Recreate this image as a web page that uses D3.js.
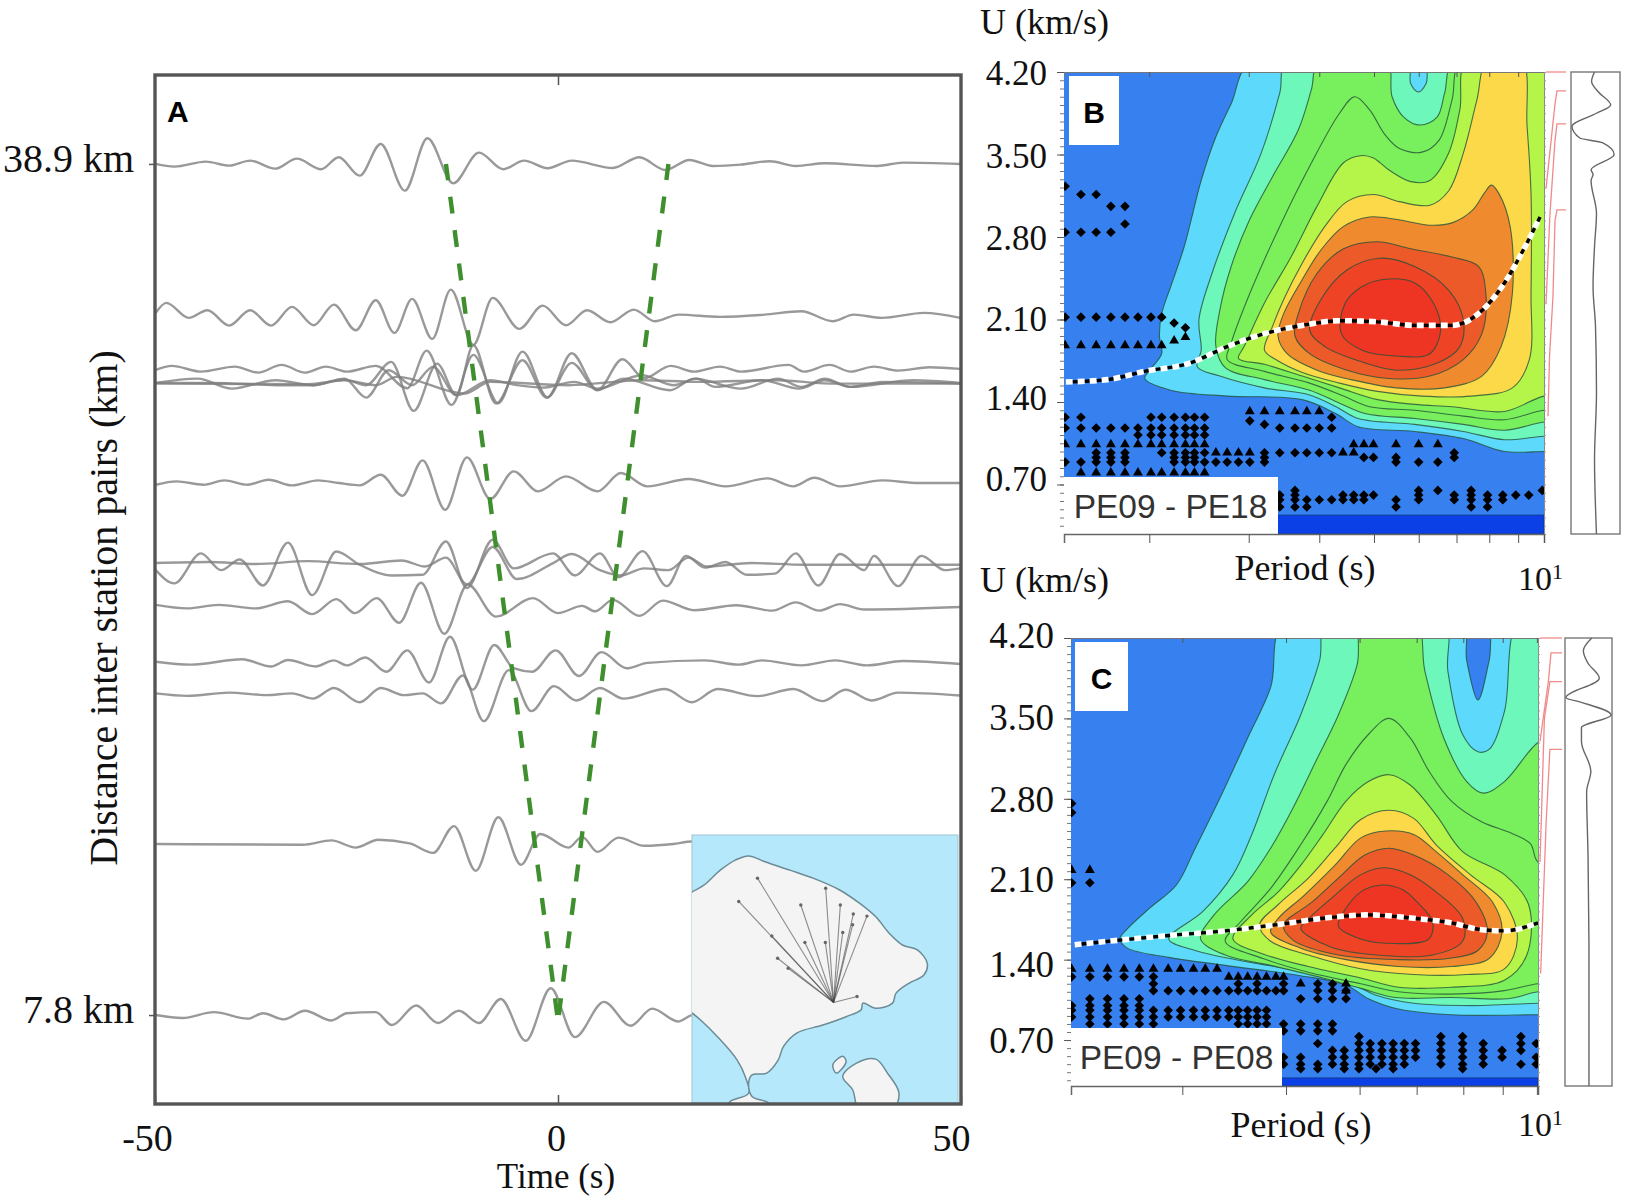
<!DOCTYPE html>
<html>
<head>
<meta charset="utf-8">
<style>
  body { margin: 0; background: #fff; }
  text { font-family: "Liberation Serif", serif; fill: #111; }
  .mark { font-family: "Liberation Sans", sans-serif; font-weight: 700; font-size: 30px; fill: #000; }
  .pair { font-family: "Liberation Sans", sans-serif; font-size: 33.5px; fill: #333; }
  .trace { fill: none; stroke: #808080; stroke-width: 2.4; opacity: .8; stroke-linejoin: round; filter: blur(.5px); }
  .move { fill: none; stroke: #3f8f2f; stroke-width: 4.4; stroke-dasharray: 17 16.68; }
  .contour { stroke: #24503a; stroke-opacity: .8; stroke-width: 1.1; }
</style>
<script src="https://cdn.jsdelivr.net/npm/d3@7"></script>
</head>
<body>
<svg id="fig" width="1628" height="1201"></svg>
<script>
// --- panel A: cross correlation traces, each one a list of [time s, amplitude] extrema
const distances = [38.9, 33.31, 31.41, 30.9, 30.9, 30.9, 27.24, 24.28, 24.28, 22.71, 20.67, 19.53, 14.05, 7.8];
const wave1 = [[-49.9,0],[-47.6,-2.7],[-43.7,2.3],[-40.8,-1.7],[-38.2,3.3],[-35.1,-4.7],[-32.4,5.3],[-29.4,-5.3],[-27.2,6.7],[-24.6,-11.7],[-22,20],[-19,-26.7],[-16.2,25.7],[-13,-19.3],[-9.8,11.3],[-6.8,-5.3],[-4.2,3.3],[-1.3,-4.3],[1.7,3.3],[6.8,-4],[10.1,6.7],[13.3,-6],[16.3,4],[19.2,-2],[22.7,-.7],[26.3,2.7],[29.5,-2],[33.1,.7],[39.6,-2],[42.8,1.3],[49.9,0]];
const wave2 = [[-49.9,4],[-48.6,14],[-45.8,-1],[-43.5,6.7],[-40.8,-8.7],[-38.2,6.7],[-35.6,-8.7],[-33,10],[-30.3,-8.3],[-27.8,12.3],[-25.1,-13.3],[-22.6,16.7],[-20.3,-16],[-18.1,18],[-15.6,-22],[-13.3,27.3],[-10.5,-28],[-8.1,19],[-4.8,-12],[-1.9,11.3],[1,-8.3],[3.6,6.7],[6.5,-5.3],[9.4,7.3],[12,-4.3],[15,2.3],[20.1,0],[25.6,2.3],[30.2,5.7],[34.1,-4.3],[36.7,2.3],[40.2,-1],[45.4,4],[49.9,-1]];
const wave3 = [[-49.9,-1],[-47.9,3],[-44.3,-2.7],[-40.1,2.3],[-37.2,-3.7],[-34.3,4],[-31.4,-3.7],[-28.8,2.3],[-26.2,-2.7],[-22.6,3],[-18.7,-19.3],[-16.3,18.3],[-13.2,-36],[-10.5,14],[-7.4,-34.3],[-4.4,17.3],[-1.3,-28.3],[1.7,15.7],[4.9,-21],[8,9.7],[10.7,-9.3],[14,3],[16.9,-2.7],[20.1,2.3],[22.7,-2.7],[28.6,4],[30.5,-2.7],[33.7,4],[36.3,-2.7],[39.2,2.3],[42.2,-1.7],[46.1,1.7],[49.9,0]];
const wave4 = [[-49.9,0],[-44.7,4.3],[-40.5,-5.7],[-35,2.7],[-30.4,-2.3],[-26.5,3.3],[-23.8,-2.3],[-20.7,21],[-17.9,-28],[-15,19.3],[-12.6,-12.3],[-10.5,37.7],[-7.7,-20.7],[-4.4,22.7],[-1.4,-15],[1.7,20],[4.9,-7.3],[8.1,4.3],[13.9,-7.3],[16.9,4.3],[22.7,-5.7],[27.3,4.3],[30.2,-4],[33.1,4.3],[36.3,-4],[44.1,2.7],[49.9,0]];
const wave5 = [[-49.9,0],[-42.7,0],[-35,-2.3],[-30.4,-2.3],[-26.5,4.3],[-23.8,-14.7],[-21,12.7],[-18.1,-2.3],[-15.5,16],[-12.6,-12.3],[-8.4,2.7],[-5.1,-2.3],[-1.9,-4.7],[2,1],[4.9,-5.7],[10.4,7.7],[14.3,-2.3],[17.2,4.3],[19.5,-4],[25.3,2.7],[29.9,-5.7],[33.1,2.7],[36.3,-4],[40.2,1],[49.9,-.7]];
const wave6 = [[-49.9,-.7],[-31,-1.3],[-26.5,2.7],[-22.6,-2.3],[-20,6],[-11.6,-10.7],[-8.4,1],[1.3,-2.3],[10.4,2.7],[17.5,1],[27.3,2.7],[33.7,-.7],[49.9,-.7]];
const wave7 = [[-49.9,-1.7],[-47.3,1.7],[-44,-1.7],[-41.4,2.7],[-38.5,-1.7],[-35.9,3.3],[-33,-2.3],[-29.8,2.7],[-27.2,0],[-24.6,-2.3],[-22,8.3],[-19.3,-12.7],[-16.8,22.7],[-14,-26.7],[-11.3,25.7],[-8.4,-16],[-5.5,11.7],[-2.5,-8.3],[1,6.7],[4.9,-8.3],[7.8,10],[11.1,-3.3],[16.2,4],[20.8,-3.3],[26,4.7],[29.2,-3.3],[31.8,5.3],[35,-3.3],[40.2,2.7],[44.8,0],[49.9,0]];
const wave8 = [[-49.9,1],[-43.4,2],[-37.5,0],[-31.1,2.9],[-24.6,0],[-19.4,3.6],[-16.5,-2.5],[-13.9,6.4],[-11.3,-20.4],[-8.1,17.1],[-5.1,-15],[-.6,1],[1.7,10],[5.2,-6.1],[7.8,-11.4],[10.7,-4.3],[13.7,-6.1],[16.2,6.4],[18.5,-2.5],[24,1],[30.5,-.7],[40.2,-.7],[49.9,-.7]];
const wave9 = [[-49.9,-6.1],[-47.6,-19.3],[-44.3,10.7],[-41.8,-6.1],[-39.5,4.6],[-36.6,-21.4],[-33.5,21.4],[-30.5,-31.1],[-27.5,12.5],[-24.6,-.7],[-20.7,-11.4],[-16.8,-10.7],[-13.9,22.5],[-11.3,-23.9],[-8.1,24.3],[-5.5,-4.3],[-.6,10.7],[2.1,-11.4],[5.2,10.7],[7.5,-13.2],[10.5,12.9],[13.5,-22.1],[15.9,8.2],[18.2,-3.6],[20.8,2.1],[23.4,-10.7],[26.9,-9.6],[29.5,10.7],[32.3,-21.4],[35,10],[38,-6.1],[39.2,8.2],[42.2,-22.1],[45.1,8.2],[48,-6.1],[49.9,-4.3]];
const wave10 = [[-49.9,2.1],[-46,-1.4],[-42.1,2.1],[-37.5,-1.4],[-33.5,5.7],[-30.5,-7.1],[-27.5,7.9],[-25.2,-6.1],[-22.5,8.9],[-19.7,-15.7],[-17,24.3],[-14.1,-26.8],[-11.2,22.5],[-7.7,-9.6],[-3.1,8.9],[0,-6.1],[3,1.1],[4.6,-4.3],[6.8,7.1],[10.1,-8.9],[13,6.4],[16.9,-3.2],[22.1,1.8],[26.6,-3.6],[29.5,4.6],[32.4,-3.6],[35,2.9],[38,-2.5],[49.9,0]];
const wave11 = [[-49.9,1.1],[-45.6,-1.8],[-39.2,3.6],[-35.6,-3.6],[-33.5,2.9],[-30.1,-3.6],[-27.8,2.5],[-26.2,-2.5],[-23.9,5.4],[-21.3,-8.9],[-18.7,12.5],[-16,-19.6],[-13.4,26.1],[-10.6,-26.8],[-7.9,17.9],[-5.5,-5.4],[-3.2,-8.9],[-.3,12.5],[2.6,-13.2],[5.4,10.7],[8.5,-5.4],[11.1,0],[18.2,2.5],[22.4,-1.8],[25.3,2.5],[30.2,-2.5],[34.4,2.5],[38.3,-2.5],[42.8,1.8],[49.9,-1.1]];
const wave12 = [[-49.9,.7],[-46,-1.8],[-40.8,1.4],[-36.2,-1.1],[-33,.7],[-30.4,-4.6],[-27.8,6.1],[-24.6,-8.2],[-22,6.1],[-19.1,-1.1],[-16.8,.7],[-14.5,-9.3],[-11.8,18.6],[-9.2,-27.1],[-6.1,23.9],[-3.3,-17.1],[-.5,7.9],[2.3,-6.4],[5.2,6.1],[8.1,-4.6],[13.3,5],[16.6,-8.2],[19.8,5],[24.7,-2.1],[29.2,5],[32.8,-7.1],[35.7,4.3],[38.9,-6.4],[42.2,1.4],[49.9,-1.4]];
const wave13 = [[-49.9,0],[-31.7,-.7],[-28.1,3.6],[-25.1,-3.6],[-22.3,4.3],[-18.4,.7],[-15.5,-8.9],[-12.9,17.9],[-10.2,-26.8],[-7.4,26.8],[-4.6,-20.7],[-2.2,10],[1.3,-3.6],[3,7.1],[4.9,-7.9],[7.5,6.4],[10.7,-1.8],[14.3,0],[16.6,2.5],[20.8,0]];
const wave14 = [[-49.9,0],[-46.6,-2.9],[-42.7,2.9],[-38.5,-3.6],[-36.6,1.8],[-34,-4.3],[-31.4,4.3],[-28.1,-5.4],[-26.2,1.8],[-22.6,2.9],[-20.6,-10],[-17.6,9.6],[-14.9,-7.9],[-12.3,4.3],[-9.8,-7.9],[-7.1,16.1],[-4,-25.7],[-.9,26.8],[2.1,-22.1],[5.7,13.2],[9,-10.7],[11.7,6.4],[14.9,-6.4],[16.6,0],[20,3]];
const waves = [wave1, wave2, wave3, wave4, wave5, wave6, wave7, wave8, wave9, wave10, wave11, wave12, wave13, wave14];

// moveout picks, listed from the near station outwards so the dash starts at the apex
const moveDist = [7.8, 38.9];
const moveLeft = [-0.1, -13.9];
const moveRight = [0.1, 13.7];

// --- inset map of the island, [lon, lat]
const landMain = [[115.006,-8.202],[115.021,-8.193],[115.055,-8.174],[115.103,-8.131],[115.147,-8.102],[115.186,-8.090],[115.234,-8.107],[115.307,-8.131],[115.375,-8.154],[115.453,-8.188],[115.511,-8.226],[115.559,-8.265],[115.598,-8.312],[115.637,-8.346],[115.681,-8.360],[115.710,-8.399],[115.700,-8.432],[115.656,-8.456],[115.618,-8.485],[115.608,-8.513],[115.559,-8.528],[115.521,-8.513],[115.516,-8.532],[115.472,-8.552],[115.404,-8.576],[115.327,-8.599],[115.288,-8.638],[115.273,-8.676],[115.239,-8.714],[115.196,-8.719],[115.186,-8.743],[115.196,-8.781],[115.244,-8.800],[115.244,-8.820],[115.123,-8.820],[115.132,-8.796],[115.186,-8.772],[115.176,-8.724],[115.152,-8.676],[115.094,-8.609],[115.050,-8.566],[115.021,-8.542],[115.006,-8.532]];
const landPenida = [[115.462,-8.724],[115.501,-8.686],[115.559,-8.674],[115.593,-8.714],[115.627,-8.772],[115.608,-8.820],[115.511,-8.820],[115.491,-8.762]];
const landLembongan = [[115.433,-8.690],[115.462,-8.666],[115.472,-8.681],[115.443,-8.714]];
const hubStation = [115.435, -8.511];
const stations = [[115.157,-8.221],[115.212,-8.154],[115.254,-8.320],[115.271,-8.384],[115.302,-8.413],[115.339,-8.231],[115.351,-8.339],[115.412,-8.183],[115.411,-8.339],[115.455,-8.231],[115.462,-8.310],[115.493,-8.257],[115.491,-8.288],[115.533,-8.263],[115.504,-8.494]];

// --- panels B and C: contour levels as [log10 period, group velocity]
const levelColors = ['#5ddafb', '#6ef7bb', '#78ef5c', '#7cf05a', '#b5f549', '#fcd949', '#ef8a2f', '#ec5a2a', '#ee4325', '#ee3423'];
const uTicks = [4.2, 3.5, 2.8, 2.1, 1.4, 0.7];

const levelsB = [
  [[.485,4.30],[.446,3.93],[.419,3.65],[.393,3.28],[.363,2.72],[.339,2.38],[.323,2.15],[.319,1.96],[.323,1.81],[.300,1.66],[.293,1.60],[.339,1.50],[.439,1.45],[.572,1.42],[.632,1.30],[.671,1.19],[.771,1.15],[.857,1.09],[.930,.98],[1,.98],[1.037,.98],[1.037,4.30]],
  [[.545,4.30],[.532,4.02],[.499,3.51],[.452,3.00],[.412,2.49],[.389,2.10],[.393,1.84],[.386,1.70],[.426,1.62],[.505,1.52],[.585,1.46],[.632,1.36],[.671,1.26],[.771,1.21],[.857,1.15],[.930,1.08],[1,1.11],[1.037,1.11],[1.037,4.30],[.801,4.30],[.791,4.10],[.778,4.03],[.764,4.10],[.758,4.30]],
  [[.602,4.30],[.588,4.05],[.565,3.71],[.519,3.31],[.479,2.95],[.446,2.55],[.426,2.18],[.419,1.87],[.436,1.69],[.505,1.59],[.585,1.50],[.638,1.39],[.685,1.30],[.771,1.26],[.857,1.21],[.930,1.16],[1,1.23],[1.037,1.23],[1.037,4.30],[.841,4.30],[.824,4.02],[.811,3.82],[.781,3.75],[.751,3.82],[.731,3.99],[.721,4.30]],
  [[.854,4.30],[.837,3.96],[.814,3.62],[.784,3.52],[.744,3.55],[.718,3.67],[.691,3.88],[.665,3.99],[.638,3.85],[.585,3.40],[.532,2.89],[.479,2.32],[.446,1.90],[.439,1.76],[.505,1.66],[.585,1.56],[.645,1.45],[.691,1.36],[.771,1.33],[.857,1.28],[.930,1.25],[1,1.33],[1.037,1.33],[1.037,4.30]],
  [[.864,4.30],[.851,3.88],[.831,3.51],[.798,3.28],[.764,3.27],[.725,3.37],[.698,3.47],[.675,3.49],[.645,3.43],[.598,3.06],[.552,2.63],[.505,2.24],[.469,1.87],[.459,1.77],[.505,1.72],[.572,1.62],[.638,1.52],[.705,1.42],[.771,1.38],[.837,1.36],[.930,1.32],[1,1.45],[1.037,1.45],[1.037,4.30]],
  [[.900,4.30],[.881,3.96],[.857,3.51],[.831,3.19],[.798,3.07],[.744,3.10],[.698,3.16],[.651,3.10],[.612,2.89],[.572,2.58],[.539,2.27],[.519,2.04],[.505,1.84],[.525,1.76],[.572,1.65],[.638,1.56],[.705,1.49],[.784,1.45],[.871,1.45],[.944,1.52],[.974,1.76],[.977,2.32],[.977,3.17],[.970,3.74],[.960,4.30]],
  [[.907,3.24],[.894,3.17],[.874,3.03],[.837,2.92],[.798,2.90],[.738,2.95],[.691,2.97],[.645,2.89],[.605,2.69],[.572,2.44],[.539,2.15],[.529,1.96],[.545,1.81],[.598,1.67],[.658,1.59],[.738,1.52],[.824,1.52],[.890,1.62],[.924,1.87],[.944,2.32],[.940,2.89],[.920,3.17]],
  [[.705,2.76],[.764,2.70],[.837,2.63],[.884,2.55],[.897,2.32],[.890,1.98],[.857,1.76],[.798,1.62],[.725,1.60],[.651,1.67],[.585,1.81],[.559,1.96],[.565,2.15],[.598,2.49],[.645,2.70]],
  [[.708,2.62],[.771,2.55],[.831,2.35],[.857,2.10],[.851,1.87],[.811,1.73],[.738,1.67],[.665,1.76],[.612,1.87],[.585,2.01],[.605,2.27],[.651,2.52]],
  [[.715,2.44],[.771,2.41],[.804,2.24],[.817,2.01],[.798,1.81],[.738,1.79],[.678,1.84],[.641,1.98],[.648,2.24],[.678,2.38]]
];
const levelsC = [
  [[.476,4.35],[.451,3.77],[.412,3.33],[.368,2.84],[.323,2.37],[.291,2.05],[.246,1.85],[.208,1.67],[.195,1.58],[.208,1.50],[.278,1.42],[.374,1.35],[.502,1.26],[.579,1.18],[.617,1.06],[.668,.97],[.758,.92],[.905,.92],[.950,.92],[.950,4.35],[.835,4.35],[.822,4.00],[.803,3.66],[.784,4.00],[.774,4.35]],
  [[.547,4.35],[.534,4.00],[.502,3.53],[.457,3.01],[.419,2.49],[.387,2.14],[.336,1.82],[.278,1.58],[.323,1.48],[.412,1.38],[.515,1.29],[.592,1.18],[.630,1.09],[.694,1.02],[.790,1.00],[.905,1.02],[.950,1.02],[.950,4.35],[.873,4.35],[.848,3.56],[.822,3.23],[.803,3.21],[.777,3.36],[.752,3.91],[.745,4.35]],
  [[.608,4.35],[.598,3.97],[.566,3.53],[.528,3.13],[.489,2.72],[.451,2.37],[.412,2.08],[.355,1.79],[.332,1.58],[.374,1.44],[.451,1.35],[.540,1.24],[.604,1.15],[.662,1.07],[.758,1.07],[.854,1.06],[.905,1.12],[.950,1.12],[.950,3.39],[.905,3.29],[.848,2.95],[.812,2.85],[.784,2.95],[.745,3.33],[.713,3.91],[.697,4.35]],
  [[.652,3.50],[.617,3.36],[.579,3.10],[.547,2.78],[.502,2.40],[.451,2.02],[.400,1.73],[.374,1.56],[.438,1.41],[.515,1.29],[.604,1.19],[.668,1.12],[.758,1.10],[.848,1.13],[.905,1.19],[.950,1.19],[.950,2.20],[.905,2.25],[.892,2.41],[.860,2.50],[.809,2.60],[.758,2.78],[.720,3.04],[.688,3.33]],
  [[.652,3.01],[.617,2.95],[.579,2.78],[.540,2.49],[.502,2.22],[.464,1.99],[.419,1.79],[.387,1.58],[.438,1.45],[.515,1.34],[.604,1.24],[.668,1.16],[.758,1.16],[.848,1.22],[.886,1.44],[.889,1.88],[.848,2.14],[.777,2.34],[.732,2.66],[.688,2.92]],
  [[.652,2.70],[.604,2.62],[.560,2.37],[.515,2.11],[.464,1.88],[.432,1.70],[.451,1.56],[.515,1.44],[.604,1.32],[.694,1.27],[.784,1.27],[.848,1.32],[.870,1.58],[.848,1.90],[.790,2.14],[.732,2.40],[.694,2.63]],
  [[.646,2.52],[.604,2.46],[.560,2.22],[.508,1.96],[.464,1.76],[.451,1.64],[.502,1.50],[.579,1.40],[.668,1.34],[.758,1.34],[.822,1.41],[.844,1.64],[.828,1.90],[.777,2.14],[.732,2.34],[.694,2.49]],
  [[.652,2.37],[.611,2.31],[.566,2.11],[.521,1.90],[.473,1.70],[.489,1.57],[.566,1.44],[.668,1.40],[.752,1.41],[.803,1.48],[.819,1.64],[.800,1.90],[.752,2.14],[.694,2.31]],
  [[.643,2.20],[.604,2.14],[.560,1.96],[.512,1.74],[.502,1.67],[.553,1.51],[.630,1.44],[.726,1.44],[.777,1.56],[.777,1.76],[.732,1.99],[.688,2.14]],
  [[.640,2.05],[.604,1.99],[.572,1.79],[.566,1.69],[.604,1.58],[.662,1.54],[.720,1.58],[.726,1.73],[.700,1.90],[.675,2.01]]
];

// picked dispersion curves
const dispB = [[.153,1.57],[.227,1.59],[.293,1.66],[.373,1.73],[.439,1.87],[.505,1.98],[.572,2.05],[.638,2.09],[.705,2.08],[.771,2.05],[.837,2.05],[.884,2.15],[.930,2.41],[.970,2.75],[.993,2.97]];
const dispC = [[.118,1.53],[.195,1.57],[.278,1.61],[.374,1.65],[.470,1.71],[.540,1.76],[.617,1.79],[.694,1.76],[.758,1.72],[.809,1.66],[.848,1.65],[.905,1.72]];

// local maxima rows: [U, [log10 periods]]
const diamondRowsB = [
  [3.23,[.152]],[3.16,[.180,.207]],[3.06,[.233,.258]],[2.91,[.258]],[2.84,[.152,.180,.207,.233]],
  [2.12,[.152,.180,.207,.233,.258,.281,.304,.323]],[2.07,[.345]],[2.03,[.365]],
  [1.27,[.152,.180,.304,.323,.345,.365,.381,.399,.624]],[1.24,[.479]],[1.21,[.505]],
  [1.18,[.152,.180,.207,.233,.258,.281,.304,.323,.345,.365,.381,.399,.532,.559,.580,.602,.624]],
  [1.12,[.281,.304,.323,.345,.365,.381,.399]],
  [.97,[.207,.233,.258,.323,.345,.365,.381,.399,.505,.532,.559,.580,.602,.624,.841]],
  [.93,[.207,.233,.258,.345,.365,.381,.505,.681,.698,.738,.841]],
  [.89,[.152,.180,.207,.233,.258,.345,.365,.381,.399,.419,.439,.459,.479,.505,.738,.778,.812]],
  [.65,[.559,.778,.812,.871,.997]],
  [.61,[.532,.559,.644,.663,.681,.698,.778,.841,.871,.900,.927,.950,.973]],
  [.57,[.532,.559,.580,.602,.624,.644,.663,.681,.738,.778,.841,.871,.900,.927]],
  [.51,[.532,.559,.580,.738,.871,.900]]
];
const triangleRowsB = [
  [1.95,[.365]],[1.92,[.345]],[1.88,[.152,.180,.207,.233,.258,.281,.304,.323]],
  [1.32,[.479,.505,.532,.559,.580,.602]],
  [1.04,[.152,.180,.207,.233,.258,.281,.304,.323,.345,.365,.381,.399,.663,.681,.698,.738,.778,.812]],
  [.97,[.419,.439,.459,.479,.644,.663]],
  [.80,[.180,.207,.233,.258,.281,.304,.323,.345,.365,.381,.399]]
];
const diamondRowsC = [
  [2.76,[.113]],[2.68,[.113]],[2.07,[.113,.144]],
  [1.25,[.113,.144,.174,.202,.228,.252]],
  [1.19,[.252,.396,.428,.473,.531,.556]],
  [1.13,[.252,.277,.298,.320,.340,.360,.380,.396,.412,.428,.444,.460,.473,.531,.556,.579]],
  [1.06,[.144,.174,.202,.228,.502,.531,.556,.579]],
  [1.00,[.113,.144,.174,.202,.228]],
  [.96,[.113,.144,.174,.202,.228,.252,.277,.298,.320,.340,.360,.380,.396,.412,.428,.444]],
  [.90,[.113,.144,.174,.202,.228,.252,.277,.298,.320,.340,.360,.380,.396,.412,.428,.444]],
  [.84,[.144,.174,.202,.228,.252,.396,.412,.428,.444,.473,.502,.531,.556]],
  [.78,[.473,.502,.531,.556]],
  [.73,[.601,.740,.777,.876]],
  [.67,[.531,.601,.620,.640,.659,.678,.697,.740,.777,.812,.876,.902]],
  [.61,[.556,.576,.601,.620,.640,.659,.678,.697,.740,.777,.812,.844,.876]],
  [.55,[.473,.502,.556,.576,.601,.620,.640,.659,.678,.697,.740,.777,.812,.844,.902]],
  [.49,[.473,.502,.531,.556,.576,.601,.620,.640,.659,.678,.740,.777,.812,.876,.902]],
  [.45,[.502,.531,.576,.601,.630,.659,.777]]
];
const triangleRowsC = [
  [2.18,[.113,.144]],
  [1.32,[.113,.144,.174,.202,.228,.252,.277,.298,.320,.340,.360]],
  [1.25,[.380,.396,.412,.428,.444,.460,.473]],
  [1.19,[.502,.579]],[1.13,[.579]]
];

// red side curves: [fraction of strip, U]
const redB = [
  [[0,4.2],[1,4.2]],
  [[1,4.04],[.55,4.04],[.45,3.93],[0,3.21]],
  [[1,3.76],[.55,3.76],[.45,3.62],[.2,3.0],[0,2.23]],
  [[1,3.03],[.55,3.03],[.45,2.94],[.35,2.3],[.18,1.8],[.1,1.28]]
];
const redC = [
  [[0,4.2],[1,4.2]],
  [[1,4.07],[.5,4.07],[.38,3.82],[0,3.30]],
  [[1,3.82],[.45,3.82],[.2,3.50],[0,2.25]],
  [[1,3.23],[.45,3.23],[.28,2.60],[.03,1.28]]
];
// amplitude spectrum beside each panel
const sideB = [[.48,4.2],[.42,4.12],[.56,4.03],[.81,3.92],[.52,3.85],[.02,3.74],[.18,3.64],[.64,3.60],[.88,3.50],[.41,3.37],[.45,3.33],[.41,3.28],[.52,3.00],[.48,2.72],[.45,2.38],[.50,2.04],[.52,1.48],[.48,.91],[.52,.28]];
const sideC = [[.57,4.2],[.39,4.09],[.49,3.98],[.73,3.85],[.02,3.68],[.35,3.64],[.98,3.53],[.35,3.42],[.35,3.30],[.55,3.04],[.46,2.86],[.49,2.31],[.51,1.44],[.51,.30]];

const svg = d3.select('#fig');

// --- panel A ---
const time = d3.scaleLinear().domain([-50, 50]).range([155, 961]);
const dist = d3.scaleLinear().domain([4.55, 42.15]).range([1104, 75]);

const traceLine = d3.line()
  .x(d => time(d[0]))
  .curve(d3.curveMonotoneX);

waves.forEach((w, i) => {
  svg.append('path')
    .attr('class', 'trace')
    .attr('d', traceLine.y(d => dist(distances[i]) - d[1])(w));
});

const moveLine = d3.line().x(d => time(d[0])).y(d => dist(d[1]));
[moveLeft, moveRight].forEach(m => {
  svg.append('path')
    .attr('class', 'move')
    .attr('d', moveLine(m.map((t, i) => [t, moveDist[i]])));
});

// inset map
const lon = d3.scaleLinear().domain([115.02, 115.80]).range([692, 958]);
const lat = d3.scaleLinear().domain([-8.03, -8.80]).range([835, 1103]);
const mapLine = d3.line().x(d => lon(d[0])).y(d => lat(d[1])).curve(d3.curveCatmullRomClosed.alpha(.5));
svg.append('clipPath').attr('id', 'map-clip').append('rect')
  .attr('x', 692).attr('y', 835).attr('width', 266).attr('height', 268);
svg.append('rect')
  .attr('x', 692).attr('y', 835).attr('width', 266).attr('height', 268)
  .attr('fill', '#b5e8fb').attr('stroke', '#9fc4d0').attr('stroke-width', 1);
const map = svg.append('g').attr('clip-path', 'url(#map-clip)');
[landMain, landPenida, landLembongan].forEach(l => {
  map.append('path').attr('d', mapLine(l))
    .attr('fill', '#f4f4f4').attr('stroke', '#6c8b96').attr('stroke-width', 1.5);
});
stations.forEach(s => {
  map.append('line')
    .attr('x1', lon(hubStation[0])).attr('y1', lat(hubStation[1]))
    .attr('x2', lon(s[0])).attr('y2', lat(s[1]))
    .attr('stroke', '#444').attr('stroke-opacity', .6).attr('stroke-width', 1.1);
  map.append('circle').attr('cx', lon(s[0])).attr('cy', lat(s[1])).attr('r', 1.7).attr('fill', '#666');
});

// frame and axes
svg.append('rect')
  .attr('x', 155).attr('y', 75).attr('width', 806).attr('height', 1029)
  .attr('fill', 'none').attr('stroke', '#555').attr('stroke-width', 3.4);

const timeAxis = svg.append('g')
  .attr('transform', 'translate(0,1104)')
  .call(d3.axisBottom(time).tickValues([-50, 0, 50]).tickSize(-9).tickPadding(20).tickFormat(d => String(d)));
timeAxis.select('.domain').remove();
timeAxis.selectAll('line').attr('stroke', '#555').attr('stroke-width', 1.5);
timeAxis.selectAll('text').attr('font-size', 38).attr('font-family', 'Liberation Serif')
  .attr('dx', d => (d === -50 ? -8 : d === 50 ? -10 : -2));
svg.append('g').attr('transform', 'translate(0,75)')
  .call(d3.axisTop(time).tickValues([0]).tickSize(-10).tickFormat(''))
  .call(g => g.select('.domain').remove())
  .selectAll('line').attr('stroke', '#555').attr('stroke-width', 1.5);

const distAxis = svg.append('g')
  .attr('transform', 'translate(155,0)')
  .call(d3.axisLeft(dist).tickValues([38.9, 7.8]).tickSize(6).tickPadding(15).tickFormat(d => `${d} km`));
distAxis.select('.domain').remove();
distAxis.selectAll('line').attr('stroke', '#555').attr('stroke-width', 1.5);
distAxis.selectAll('text').attr('font-size', 40).attr('dy', '.18em').attr('font-family', 'Liberation Serif');

svg.append('text')
  .attr('transform', 'translate(117,608) rotate(-90)')
  .attr('text-anchor', 'middle').attr('font-size', 40)
  .text('Distance inter station pairs (km)');
svg.append('text').attr('x', 556).attr('y', 1188).attr('text-anchor', 'middle').attr('font-size', 35).text('Time (s)');
svg.append('text').attr('class', 'mark').attr('x', 167).attr('y', 122).text('A');

// --- panels B and C ---
function drawPanel(cfg) {
  const xs = d3.scaleLog().domain(cfg.periods).range([cfg.left, cfg.right]);
  const ys = d3.scaleLinear().domain([cfg.uMin, 4.2]).range([cfg.bottom, cfg.top]);
  const xp = lp => xs(10 ** lp);
  const width = cfg.right - cfg.left;
  const height = cfg.bottom - cfg.top;
  const clipId = `clip-${cfg.name}`;

  svg.append('clipPath').attr('id', clipId).append('rect')
    .attr('x', cfg.left).attr('y', cfg.top).attr('width', width).attr('height', height);

  const plot = svg.append('g').attr('clip-path', `url(#${clipId})`);
  plot.append('rect').attr('x', cfg.left).attr('y', cfg.top).attr('width', width).attr('height', height).attr('fill', '#3680f0');

  const contour = d3.line().x(d => xp(d[0])).y(d => ys(d[1])).curve(d3.curveCatmullRomClosed.alpha(.5));
  cfg.levels.forEach((lv, i) => {
    plot.append('path').attr('class', 'contour').attr('fill', levelColors[i]).attr('d', contour(lv));
  });

  plot.append('rect')
    .attr('x', cfg.left).attr('y', ys(cfg.stripU)).attr('width', width).attr('height', cfg.bottom - ys(cfg.stripU))
    .attr('fill', '#0b40e6').attr('stroke', '#123a90').attr('stroke-width', 1);

  const diamond = d3.symbol().type(d3.symbolSquare).size(46)();
  const triangle = d3.symbol().type(d3.symbolTriangle).size(42)();
  [[cfg.diamonds, diamond, 45], [cfg.triangles, triangle, 0]].forEach(([rows, shape, turn]) => {
    rows.forEach(([u, ps]) => {
      ps.forEach(p => {
        plot.append('path').attr('d', shape).attr('fill', '#000')
          .attr('transform', `translate(${xp(p)},${ys(u)}) rotate(${turn})`);
      });
    });
  });

  const disp = d3.line().x(d => xp(d[0])).y(d => ys(d[1])).curve(d3.curveMonotoneX);
  plot.append('path').attr('d', disp(cfg.disp)).attr('fill', 'none').attr('stroke', '#000').attr('stroke-width', 3.4);
  plot.append('path').attr('d', disp(cfg.disp)).attr('fill', 'none').attr('stroke', '#fff').attr('stroke-width', 5.6).attr('stroke-dasharray', '7 5');

  // white label boxes sit over the plot in the original
  svg.append('rect').attr('x', cfg.markBox[0]).attr('y', cfg.top + 4).attr('width', cfg.markBox[1]).attr('height', 69).attr('fill', '#fff');
  svg.append('text').attr('class', 'mark').attr('x', cfg.markBox[0] + cfg.markBox[1] / 2).attr('y', cfg.top + 51)
    .attr('text-anchor', 'middle').text(cfg.mark);
  svg.append('rect').attr('x', cfg.pairBox[0]).attr('y', cfg.pairBox[1]).attr('width', cfg.pairBox[2]).attr('height', cfg.bottom - cfg.pairBox[1]).attr('fill', '#fff');
  svg.append('text').attr('class', 'pair').attr('x', cfg.pairBox[0] + cfg.pairBox[2] / 2).attr('y', cfg.pairBox[1] + 41)
    .attr('text-anchor', 'middle').text(cfg.pair);

  // axes
  const minorU = d3.range(4.2, cfg.uMin, -0.07);
  const leftMinor = svg.append('g').attr('transform', `translate(${cfg.left},0)`)
    .call(d3.axisLeft(ys).tickValues(minorU).tickSize(4).tickFormat(''));
  leftMinor.select('.domain').remove();
  leftMinor.selectAll('line').attr('stroke', '#777');

  const left = svg.append('g').attr('transform', `translate(${cfg.left},0)`)
    .call(d3.axisLeft(ys).tickValues(uTicks).tickSize(7).tickPadding(10).tickFormat(d3.format('.2f')));
  left.select('.domain').remove();
  left.selectAll('line').attr('stroke', '#555');
  // the labels were pasted by hand in the original and sit a little off their ticks
  left.selectAll('text').attr('font-size', cfg.labelSize).attr('font-family', 'Liberation Serif')
    .attr('transform', (d, i) => `translate(0,${cfg.labelShift[i]})`);

  const bottom = svg.append('g').attr('transform', `translate(0,${cfg.bottom})`)
    .call(d3.axisBottom(xs).tickValues(cfg.periodTicks).tickSize(9).tickFormat(''));
  bottom.select('.domain').attr('stroke', '#666').attr('stroke-width', 1.5);
  bottom.selectAll('line').attr('stroke', '#555');

  const top = svg.append('g').attr('transform', `translate(0,${cfg.top})`)
    .call(d3.axisTop(xs).tickValues(cfg.periodTicks).tickSize(-5).tickFormat(''));
  top.select('.domain').attr('stroke', '#777');
  top.selectAll('line').attr('stroke', '#555');

  const rightMinor = svg.append('g').attr('transform', `translate(${cfg.right},0)`)
    .call(d3.axisRight(ys).tickValues(minorU).tickSize(2).tickFormat(''));
  rightMinor.select('.domain').attr('stroke', '#8a8a8a');
  rightMinor.selectAll('line').attr('stroke', '#999');

  // red curves
  const redX = d3.scaleLinear().domain([0, 1]).range(cfg.redRange);
  const redLine = d3.line().x(d => redX(d[0])).y(d => ys(d[1]));
  cfg.red.forEach(r => {
    svg.append('path').attr('d', redLine(r)).attr('fill', 'none').attr('stroke', '#f08a8a').attr('stroke-width', 1.3);
  });

  // amplitude strip
  const sideX = d3.scaleLinear().domain([0, 1]).range(cfg.sideRange);
  svg.append('rect')
    .attr('x', cfg.sideRange[0]).attr('y', cfg.top)
    .attr('width', cfg.sideRange[1] - cfg.sideRange[0]).attr('height', height)
    .attr('fill', 'none').attr('stroke', '#777').attr('stroke-width', 1.4);
  svg.append('path')
    .attr('d', d3.line().x(d => sideX(d[0])).y(d => ys(d[1])).curve(d3.curveMonotoneY)(cfg.side))
    .attr('fill', 'none').attr('stroke', '#666').attr('stroke-width', 1.4);

  // texts
  svg.append('text').attr('x', cfg.uLabel[0]).attr('y', cfg.uLabel[1]).attr('font-size', 36).text('U (km/s)');
  svg.append('text').attr('x', cfg.periodLabel[0]).attr('y', cfg.periodLabel[1]).attr('text-anchor', 'middle').attr('font-size', 36).text('Period (s)');
  const ten = svg.append('text').attr('x', cfg.tenLabel[0]).attr('y', cfg.tenLabel[1]).attr('font-size', 34).text('10');
  ten.append('tspan').attr('font-size', 22).attr('dy', -11).text('1');
}

drawPanel({
  name: 'b', mark: 'B', pair: 'PE09 - PE18',
  left: 1064, right: 1544, top: 72, bottom: 534,
  periods: [10 ** 0.15, 10], periodTicks: [2, 3, 4, 5, 6, 7, 8, 9, 10],
  uMin: 0.28, stripU: 0.44,
  levels: levelsB, disp: dispB,
  diamonds: diamondRowsB, triangles: triangleRowsB,
  red: redB, redRange: [1546, 1566],
  side: sideB, sideRange: [1571, 1620],
  markBox: [1069, 50], pairBox: [1063, 477, 215],
  labelSize: 35, labelShift: [1, 1.5, 1, 0, -4, -5.5],
  uLabel: [980, 34], periodLabel: [1305, 580], tenLabel: [1518, 590]
});
drawPanel({
  name: 'c', mark: 'C', pair: 'PE09 - PE08',
  left: 1071, right: 1538, top: 638, bottom: 1086,
  periods: [10 ** 0.112, 10 ** 0.905], periodTicks: [2, 3, 4, 5, 6, 7, 8],
  uMin: 0.30, stripU: 0.37,
  levels: levelsC, disp: dispC,
  diamonds: diamondRowsC, triangles: triangleRowsC,
  red: redC, redRange: [1540, 1562],
  side: sideC, sideRange: [1565, 1612],
  markBox: [1075, 53], pairBox: [1071, 1028, 211],
  labelSize: 37, labelShift: [-2, -1, 1, 0, 5, 1],
  uLabel: [980, 592], periodLabel: [1301, 1137], tenLabel: [1518, 1136]
});
</script>
</body>
</html>
